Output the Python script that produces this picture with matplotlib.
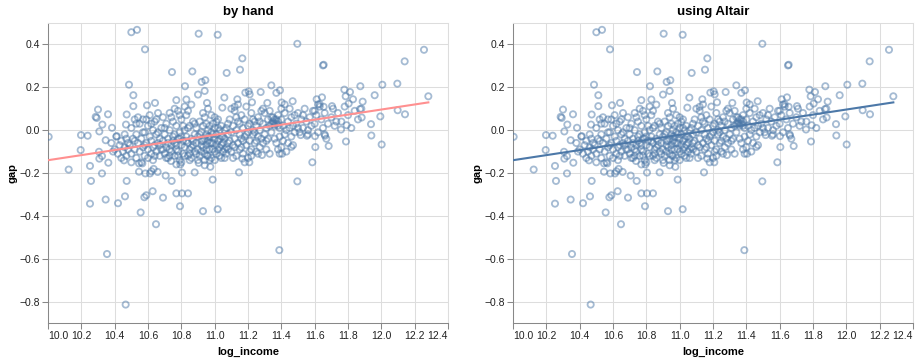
import matplotlib
matplotlib.use("Agg")
import matplotlib.pyplot as plt
import numpy as np

plt.rcParams["font.family"] = ["Liberation Sans", "DejaVu Sans"]

# points: (log_income, gap)
outer_points = [
    (10.50, 0.457), (10.534, 0.468), (10.904, 0.450), (11.018, 0.445), (10.582, 0.377),
    (11.496, 0.403), (12.256, 0.375), (12.14, 0.321), (11.166, 0.335), (11.65, 0.302),
    (11.654, 0.305), (11.152, 0.282), (10.744, 0.271), (10.866, 0.274), (11.072, 0.267),
    (10.944, 0.233), (10.922, 0.225), (10.486, 0.212), (10.822, 0.205), (11.34, 0.209),
    (12.006, 0.212), (12.096, 0.217), (11.874, 0.205), (11.778, 0.189), (11.812, 0.178),
    (11.786, 0.158), (11.96, 0.163), (12.282, 0.158), (10.94, 0.183), (10.90, 0.166),
    (10.512, 0.163), (11.204, 0.181), (11.184, 0.175), (11.276, 0.178), (11.392, 0.186),
    (11.37, 0.174), (11.21, 0.167), (11.058, 0.152), (11.136, 0.144), (10.77, 0.140),
    (10.83, 0.143), (11.612, 0.144), (11.644, 0.153), (11.83, 0.144), (11.888, 0.133),
    (11.804, 0.124), (11.224, 0.130), (11.402, 0.129), (11.468, 0.135), (11.316, 0.127),
    (10.642, 0.127), (10.594, 0.116), (10.512, 0.112), (10.86, 0.119), (10.954, 0.127),
    (11.046, 0.105), (11.12, 0.109), (10.30, 0.096), (12.098, 0.093), (12.142, 0.074),
    (11.872, 0.098), (11.882, 0.059), (11.994, 0.064), (11.704, 0.112), (11.63, 0.121),
    (11.654, 0.109), (10.286, 0.062), (10.292, 0.057), (10.36, 0.074), (10.472, 0.073),
    (10.326, 0.026), (10.384, 0.011), (10.308, -0.006), (10.468, 0.026), (10.004, -0.031),
    (10.198, -0.023), (10.238, -0.026), (10.346, -0.047), (10.412, -0.028), (10.196, -0.093),
    (10.124, -0.184), (10.252, -0.167), (10.306, -0.101), (10.308, -0.133), (10.324, -0.121),
    (10.324, -0.202), (10.362, -0.152), (10.258, -0.237), (10.252, -0.343), (10.346, -0.324),
    (10.42, -0.341), (10.462, -0.309), (10.472, -0.237), (10.456, -0.141), (10.354, -0.578),
    (10.466, -0.814), (10.556, -0.384), (10.648, -0.439), (10.578, -0.313), (10.59, -0.304),
    (10.628, -0.285), (10.69, -0.315), (10.77, -0.295), (10.804, -0.295), (10.84, -0.295),
    (10.792, -0.355), (10.93, -0.378), (11.018, -0.369), (10.988, -0.231), (10.742, -0.237),
    (10.706, -0.212), (10.546, -0.194), (10.584, -0.202), (10.612, -0.202), (10.62, -0.192),
    (10.658, -0.195), (10.634, -0.181), (10.804, -0.198), (10.88, -0.197), (11.146, -0.197),
    (11.388, -0.560), (11.496, -0.239), (11.586, -0.150), (11.604, -0.079), (11.684, -0.074),
    (11.788, -0.053), (12.002, -0.067), (11.94, -0.025), (11.938, 0.028), (11.758, 0.003),
    (11.792, 0.023), (11.602, -0.028), (11.662, -0.026), (11.554, -0.026), (11.516, -0.023),
    (11.46, -0.078), (11.404, -0.110), (11.39, -0.110), (11.284, -0.116), (11.208, -0.150),
    (11.166, -0.133), (10.954, -0.119), (10.974, -0.171), (10.94, -0.164), (10.904, -0.153),
    (10.77, -0.160), (10.794, -0.160), (10.738, -0.144), (10.546, -0.155), (10.566, -0.155),
]

# dense middle of the cloud, estimated by eye
cluster_low = [
    (10.38, -0.06), (10.40, -0.09), (10.41, -0.03), (10.42, -0.11), (10.43, -0.07),
    (10.44, -0.05), (10.45, -0.10), (10.46, -0.08), (10.47, -0.12), (10.47, -0.04),
    (10.48, -0.09), (10.39, -0.10), (10.44, -0.13), (10.46, -0.02), (10.48, -0.06),
    (10.49, -0.07), (10.50, -0.11), (10.50, 0.01), (10.51, -0.04), (10.52, -0.09),
    (10.52, 0.05), (10.53, -0.02), (10.53, -0.13), (10.54, -0.06), (10.55, 0.03),
    (10.55, -0.10), (10.56, -0.04), (10.57, 0.05), (10.57, -0.08), (10.58, -0.01),
    (10.58, -0.12), (10.59, -0.06), (10.60, 0.02), (10.60, -0.09), (10.61, -0.03),
    (10.61, 0.07), (10.62, -0.11), (10.62, -0.05), (10.63, 0.00), (10.63, -0.14),
    (10.64, -0.07), (10.64, 0.04), (10.65, -0.10), (10.65, -0.02), (10.66, -0.06),
    (10.66, 0.08), (10.67, -0.12), (10.67, -0.04), (10.68, 0.01), (10.68, -0.09),
    (10.50, -0.15), (10.54, 0.06), (10.56, -0.15), (10.59, 0.05), (10.62, 0.03),
    (10.64, -0.12), (10.66, -0.01), (10.52, -0.05), (10.58, -0.07), (10.60, -0.13),
    (10.63, -0.08), (10.65, 0.05), (10.67, -0.07), (10.53, 0.03), (10.57, -0.01),
]

cluster_mid = [
    (10.69, -0.05), (10.69, 0.06), (10.70, -0.11), (10.70, -0.02), (10.71, 0.03),
    (10.71, -0.08), (10.72, -0.13), (10.72, -0.04), (10.73, 0.08), (10.73, 0.00),
    (10.74, -0.07), (10.74, -0.10), (10.75, -0.03), (10.75, 0.04), (10.76, -0.12),
    (10.76, -0.06), (10.77, 0.02), (10.77, -0.09), (10.78, -0.04), (10.78, 0.09),
    (10.79, -0.01), (10.79, -0.14), (10.80, -0.07), (10.80, 0.05), (10.81, -0.05),
    (10.81, -0.11), (10.82, 0.00), (10.82, -0.08), (10.83, -0.03), (10.83, 0.07),
    (10.84, -0.12), (10.84, -0.06), (10.85, 0.02), (10.85, -0.09), (10.86, -0.04),
    (10.86, -0.13), (10.87, 0.04), (10.87, -0.07), (10.88, -0.02), (10.88, -0.10),
    (10.70, 0.01), (10.72, -0.06), (10.74, 0.06), (10.76, -0.02), (10.78, -0.10),
    (10.80, -0.03), (10.82, -0.12), (10.84, 0.01), (10.86, -0.08), (10.71, -0.13),
    (10.73, -0.09), (10.75, -0.05), (10.77, -0.07), (10.79, -0.04), (10.81, 0.02),
    (10.83, -0.05), (10.85, -0.11), (10.87, -0.05), (10.69, -0.09), (10.79, 0.07),
    (10.76, 0.10), (10.82, 0.11), (10.84, 0.09), (10.80, -0.15), (10.85, -0.14),
    (10.73, -0.12), (10.78, -0.12), (10.88, 0.03),
    (10.89, -0.06), (10.89, 0.01), (10.90, -0.09), (10.90, -0.03), (10.91, -0.12),
    (10.91, 0.04), (10.92, -0.05), (10.92, -0.01), (10.93, -0.08), (10.93, 0.02),
    (10.94, -0.04), (10.94, -0.11), (10.95, -0.02), (10.95, -0.07), (10.96, 0.00),
    (10.96, -0.05), (10.97, -0.09), (10.97, -0.03), (10.98, -0.01), (10.98, -0.13),
    (10.99, -0.06), (10.99, 0.03), (11.00, -0.04), (11.00, -0.10), (11.01, -0.02),
    (11.01, -0.07), (11.02, 0.01), (11.02, -0.05), (11.03, -0.08), (11.03, -0.12),
    (11.04, -0.03), (11.04, 0.02), (11.05, -0.06), (11.05, -0.10), (11.06, 0.00),
    (11.06, -0.04), (11.07, -0.08), (11.07, -0.11), (11.08, -0.02), (11.08, 0.03),
    (10.90, -0.14), (10.92, -0.10), (10.94, 0.06), (10.96, -0.12), (10.98, -0.06),
    (11.00, 0.01), (11.02, -0.09), (11.04, -0.07), (11.06, -0.13), (10.91, -0.02),
    (10.93, -0.05), (10.95, 0.03), (10.97, -0.06), (10.99, -0.02), (11.01, -0.11),
    (11.03, 0.00), (11.05, -0.03), (11.07, 0.01), (10.95, -0.09), (10.97, 0.02),
    (10.99, -0.09), (11.01, 0.04), (11.03, -0.04), (10.93, 0.08), (10.96, 0.10),
    (10.98, 0.07), (11.00, 0.06), (11.02, 0.05), (10.94, -0.14), (11.00, -0.14),
    (11.04, -0.13), (11.06, -0.09), (10.92, -0.07), (10.96, -0.03), (11.08, -0.06),
    (11.08, -0.09), (10.89, -0.11), (10.97, -0.14),
]

cluster_high = [
    (11.09, -0.05), (11.09, 0.05), (11.10, -0.10), (11.10, -0.01), (11.11, 0.02),
    (11.11, -0.07), (11.12, -0.04), (11.12, 0.09), (11.13, -0.12), (11.13, 0.00),
    (11.14, -0.06), (11.14, 0.04), (11.15, -0.02), (11.15, -0.09), (11.16, 0.07),
    (11.16, -0.04), (11.17, 0.01), (11.17, -0.11), (11.18, -0.03), (11.18, 0.05),
    (11.19, -0.07), (11.19, 0.11), (11.20, -0.01), (11.20, -0.13), (11.21, 0.03),
    (11.21, -0.05), (11.22, -0.09), (11.22, 0.08), (11.23, -0.02), (11.23, 0.00),
    (11.24, -0.06), (11.24, 0.04), (11.25, -0.10), (11.25, 0.02), (11.26, -0.03),
    (11.26, 0.06), (11.27, -0.08), (11.27, 0.00), (11.28, -0.04), (11.28, 0.09),
    (11.11, -0.13), (11.13, 0.06), (11.15, 0.03), (11.17, -0.05), (11.19, -0.02),
    (11.21, -0.10), (11.23, 0.05), (11.25, -0.05), (11.27, 0.04), (11.10, 0.10),
    (11.14, 0.12), (11.18, -0.15), (11.22, -0.12), (11.26, -0.11), (11.12, -0.08),
    (11.16, -0.08), (11.20, 0.02), (11.24, -0.01),
    (11.29, -0.06), (11.29, 0.03), (11.30, -0.02), (11.30, 0.08), (11.31, -0.09),
    (11.31, 0.01), (11.32, 0.05), (11.32, -0.04), (11.33, 0.02), (11.33, -0.11),
    (11.34, 0.06), (11.34, -0.01), (11.35, 0.03), (11.35, 0.04), (11.36, 0.05),
    (11.36, 0.02), (11.37, 0.03), (11.37, -0.06), (11.38, 0.04), (11.38, 0.07),
    (11.39, 0.01), (11.39, -0.03), (11.40, 0.05), (11.40, -0.08), (11.41, 0.02),
    (11.41, -0.05), (11.42, 0.08), (11.42, -0.02), (11.43, 0.00), (11.43, -0.10),
    (11.44, 0.04), (11.44, -0.06), (11.45, 0.01), (11.45, 0.10), (11.46, -0.03),
    (11.46, 0.06), (11.47, -0.07), (11.47, 0.02), (11.48, 0.07), (11.48, -0.01),
    (11.35, 0.06), (11.36, 0.03), (11.37, 0.05), (11.38, 0.02), (11.34, 0.03),
    (11.36, -0.04), (11.38, -0.09), (11.40, 0.10), (11.42, 0.12), (11.33, 0.09),
    (11.31, -0.05), (11.29, 0.10),
    (11.49, 0.03), (11.50, 0.08), (11.51, -0.01), (11.52, 0.05), (11.53, 0.01),
    (11.54, 0.10), (11.55, 0.04), (11.56, -0.02), (11.57, 0.06), (11.58, 0.02),
    (11.59, 0.09), (11.60, 0.03), (11.61, 0.07), (11.62, -0.01), (11.63, 0.11),
    (11.64, 0.05), (11.65, 0.01), (11.66, 0.08), (11.67, -0.04), (11.68, 0.03),
    (11.50, 0.01), (11.53, 0.07), (11.56, 0.00), (11.60, 0.09), (11.62, 0.12),
    (11.66, -0.02), (11.70, 0.06), (11.72, 0.02), (11.74, 0.08), (11.76, 0.04),
    (11.78, 0.11), (11.80, 0.07), (11.82, 0.01), (11.84, 0.09), (11.86, 0.05),
    (11.88, 0.10), (11.71, 0.10), (11.73, 0.04),
]

x_ticks = [10.0, 10.2, 10.4, 10.6, 10.8, 11.0, 11.2, 11.4, 11.6, 11.8, 12.0, 12.2, 12.4]
y_ticks = [-0.8, -0.6, -0.4, -0.2, 0.0, 0.2, 0.4]
titles = ["by hand", "using Altair"]
line_colors = ["#ff9090", "#4c78a8"]

pts = np.array(outer_points + cluster_low + cluster_mid + cluster_high)
log_income = pts[:, 0]
gap = pts[:, 1]

slope, intercept = np.polyfit(log_income, gap, 1)
fit_x = np.array([log_income.min(), log_income.max()])
fit_y = intercept + slope * fit_x

fig = plt.figure(figsize=(9.2, 3.61), dpi=100)
axes = [fig.add_axes([48 / 920, 38 / 361, 400 / 920, 300 / 361]),
        fig.add_axes([513 / 920, 38 / 361, 400 / 920, 300 / 361])]

for ax, title, lc in zip(axes, titles, line_colors):
    ax.scatter(log_income, gap, s=20, facecolors="none", edgecolors="#4c78a8",
               linewidths=1.3, alpha=0.5, zorder=3)
    ax.plot(fit_x, fit_y, color=lc, lw=1.5, zorder=4)
    ax.set_xlim(10.0, 12.4)
    ax.set_ylim(-0.9, 0.5)
    ax.set_xticks(x_ticks)
    ax.set_yticks(y_ticks)
    ax.set_xticklabels([f"{t:.1f}" for t in x_ticks])
    ax.set_yticklabels([f"{t:.1f}".replace("-", "\u2212") for t in y_ticks])
    lbls = ax.get_xticklabels()
    lbls[0].set_horizontalalignment("left")
    lbls[-1].set_horizontalalignment("right")
    ax.grid(True, color="#dddddd", lw=0.75, zorder=0)
    ax.set_axisbelow(True)
    for side in ["top", "right"]:
        ax.spines[side].set_color("#dddddd")
        ax.spines[side].set_linewidth(0.75)
    for side in ["left", "bottom"]:
        ax.spines[side].set_color("#888888")
        ax.spines[side].set_linewidth(0.75)
    ax.tick_params(length=4, width=0.75, color="#888888", labelsize=7.5,
                   pad=2, labelcolor="#222222")
    ax.set_xlabel("log_income", fontsize=8, fontweight="bold", labelpad=4)
    ax.set_ylabel("gap", fontsize=8, fontweight="bold", labelpad=1)
    ax.set_title(title, fontsize=9.5, fontweight="bold", pad=6)

fig.savefig("out.png", dpi=100)
